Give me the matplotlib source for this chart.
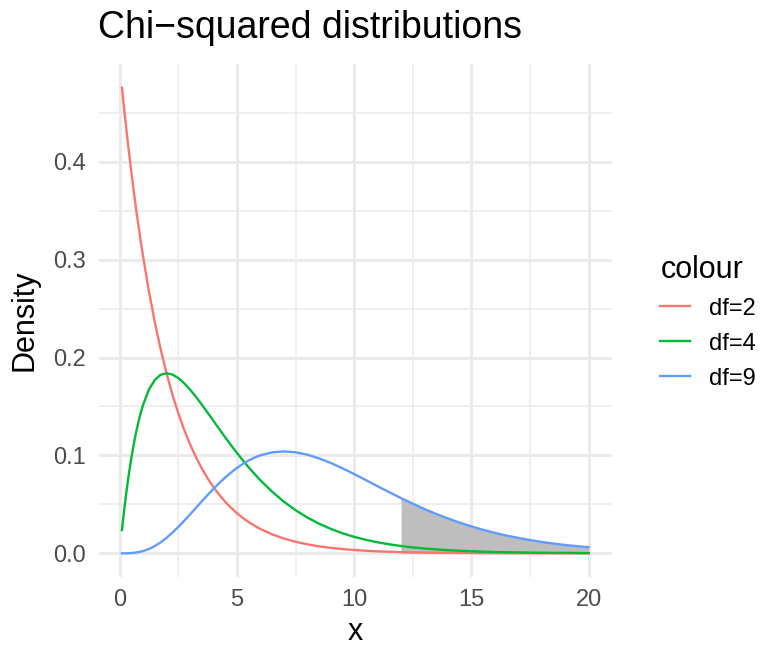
import matplotlib
matplotlib.use("Agg")
import matplotlib.pyplot as plt

####### DATA BLOCK #######

# densities at these x positions
x_vals = [0.1, 0.2, 0.3, 0.4, 0.5, 0.6, 0.7, 0.8, 0.9, 1,
          1.25, 1.5, 1.75, 2, 2.25, 2.5, 2.75, 3, 3.25, 3.5, 3.75, 4,
          4.25, 4.5, 4.75, 5, 5.25, 5.5, 5.75, 6,
          6.5, 7, 7.5, 8, 8.5, 9, 9.5, 10, 10.5, 11, 11.5, 12, 12.5, 13,
          13.5, 14, 14.5, 15, 15.5, 16, 16.5, 17, 17.5, 18, 18.5, 19, 19.5, 20]

df2 = [0.4756, 0.4524, 0.4304, 0.4094, 0.3894, 0.3704, 0.3523, 0.3352, 0.3188, 0.3033,
       0.2676, 0.2362, 0.2084, 0.1839, 0.1623, 0.1433, 0.1264, 0.1116, 0.0985, 0.0869,
       0.0767, 0.0677, 0.0597, 0.0527, 0.0465, 0.0410, 0.0362, 0.0320, 0.0282, 0.0249,
       0.0194, 0.0151, 0.0118, 0.0092, 0.0071, 0.0056, 0.0043, 0.0034, 0.0026, 0.0020,
       0.0016, 0.0012, 0.0010, 0.0008, 0.0006, 0.0005, 0.0004, 0.0003, 0.0002, 0.0002,
       0.0001, 0.0001, 0.0001, 0.0001, 0.0000, 0.0000, 0.0000, 0.0000]

df4 = [0.0238, 0.0452, 0.0646, 0.0819, 0.0974, 0.1111, 0.1233, 0.1341, 0.1435, 0.1516,
       0.1673, 0.1771, 0.1824, 0.1839, 0.1826, 0.1791, 0.1738, 0.1673, 0.1600, 0.1520,
       0.1438, 0.1353, 0.1269, 0.1186, 0.1105, 0.1026, 0.0951, 0.0879, 0.0811, 0.0747,
       0.0630, 0.0528, 0.0441, 0.0366, 0.0303, 0.0250, 0.0205, 0.0168, 0.0138, 0.0112,
       0.0092, 0.0074, 0.0060, 0.0049, 0.0040, 0.0032, 0.0026, 0.0021, 0.0017, 0.0013,
       0.0011, 0.0009, 0.0007, 0.0006, 0.0004, 0.0004, 0.0003, 0.0002]

df9 = [0.0000, 0.0000, 0.0000, 0.0001, 0.0003, 0.0005, 0.0008, 0.0012, 0.0017, 0.0023,
       0.0044, 0.0074, 0.0112, 0.0158, 0.0211, 0.0269, 0.0331, 0.0396, 0.0463, 0.0530,
       0.0595, 0.0658, 0.0718, 0.0774, 0.0825, 0.0872, 0.0913, 0.0948, 0.0977, 0.1001,
       0.1031, 0.1041, 0.1032, 0.1008, 0.0970, 0.0923, 0.0869, 0.0810, 0.0748, 0.0685,
       0.0624, 0.0564, 0.0507, 0.0452, 0.0402, 0.0356, 0.0313, 0.0275, 0.0240, 0.0209,
       0.0181, 0.0157, 0.0135, 0.0116, 0.0099, 0.0085, 0.0073, 0.0062]

series_labels = ["df=2", "df=4", "df=9"]
series_colors = ["#F8766D", "#00BA38", "#619CFF"]
shade_from = 12

x_ticks = [0, 5, 10, 15, 20]
y_ticks = [0.0, 0.1, 0.2, 0.3, 0.4]

####### PLOT BLOCK #######

plt.rcParams['font.family'] = ['Liberation Sans', 'DejaVu Sans']

fig = plt.figure(figsize=(7.61, 6.48), dpi=100)
ax = fig.add_axes([0.1296, 0.1102, 0.6746, 0.7904])

# shaded tail under df=9
tail_x = [x for x in x_vals if x >= shade_from]
tail_y = [y for x, y in zip(x_vals, df9) if x >= shade_from]
ax.fill_between(tail_x, 0, tail_y, color="#BEBEBE", lw=0, zorder=2)

for ys, lab, col in zip([df2, df4, df9], series_labels, series_colors):
    ax.plot(x_vals, ys, color=col, lw=1.7, label=lab, zorder=3)

# ggplot-like expansion
xr = max(x_vals) - min(x_vals)
ax.set_xlim(min(x_vals) - 0.05 * xr, max(x_vals) + 0.05 * xr)
yr = max(df2)
ax.set_ylim(-0.05 * yr, yr * 1.05)

ax.set_xticks(x_ticks)
ax.set_xticks([2.5, 7.5, 12.5, 17.5], minor=True)
ax.set_yticks(y_ticks)
ax.set_yticks([0.05, 0.15, 0.25, 0.35, 0.45], minor=True)
ax.set_xticklabels([str(t) for t in x_ticks])
ax.set_yticklabels(["%.1f" % t for t in y_ticks])

ax.grid(which="major", color="#EBEBEB", lw=2.2)
ax.grid(which="minor", color="#EBEBEB", lw=1.1)
ax.set_axisbelow(True)
for s in ax.spines.values():
    s.set_visible(False)
ax.tick_params(which="both", length=0, labelsize=17, labelcolor="#4D4D4D")
ax.tick_params(axis="x", pad=9)
ax.tick_params(axis="y", pad=9)

ax.set_xlabel("x", fontsize=22, labelpad=4)
ax.set_ylabel("Density", fontsize=22, labelpad=10)
fig.text(98 / 761, 1 - 28 / 648, "Chi\u2212squared distributions",
         fontsize=27, ha="left", va="center")

leg = fig.legend(loc="center left", bbox_to_anchor=(639 / 761, 0.503),
                 title="colour", frameon=False, fontsize=17,
                 title_fontsize=22, handlelength=1.25, handletextpad=0.8,
                 labelspacing=0.55, alignment="left")

fig.savefig("out.png", dpi=100)
